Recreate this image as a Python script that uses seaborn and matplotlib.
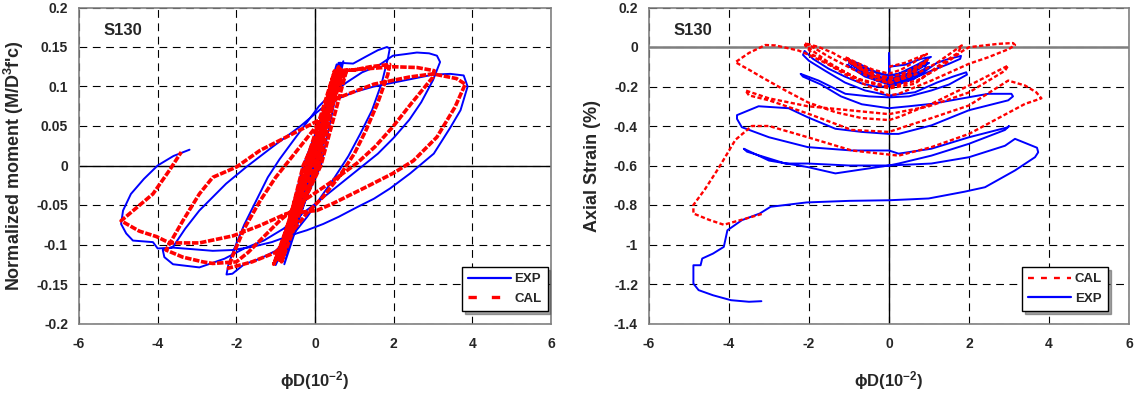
import numpy as np
import pandas as pd
import seaborn as sns
import matplotlib
matplotlib.use("Agg")
import matplotlib.pyplot as plt
from matplotlib.lines import Line2D
from matplotlib.ticker import FuncFormatter, MultipleLocator

# moment - curvature, test (EXP) path
exp_moment = [
    (0.0, 0.0), (0.6, 0.13), (0.1, 0.0), (-0.85, -0.122), (-0.2, 0.0), (0.55, 0.128),
    (-0.05, 0.0), (-1.0, -0.126), (0.15, 0.0), (0.72, 0.132), (-0.3, 0.0), (-0.92, -0.12),
    (0.0, 0.0), (0.65, 0.13), (0.05, 0.0), (-0.78, -0.125), (-0.1, 0.0), (0.62, 0.13),
    (0.97, 0.129), (1.3, 0.138), (1.6, 0.146), (1.83, 0.15), (1.9, 0.148), (1.86, 0.137), (1.7, 0.105),
    (1.45, 0.07), (1.15, 0.04), (0.85, 0.012), (0.5, -0.015), (0.15, -0.04), (-0.2, -0.065), (-0.6, -0.09),
    (-1.0, -0.108), (-1.4, -0.118), (-1.8, -0.125), (-2.1, -0.137), (-2.25, -0.138), (-2.2, -0.125),
    (-2.05, -0.105), (-1.8, -0.075), (-1.5, -0.045), (-1.2, -0.015), (-0.9, 0.008), (-0.5, 0.035),
    (-0.2, 0.055), (0.1, 0.075), (0.4, 0.09), (0.8, 0.105), (1.2, 0.118), (1.6, 0.126), (1.98, 0.139),
    (2.3, 0.141), (2.59, 0.143), (2.9, 0.142), (3.1, 0.139), (3.18, 0.131), (3.0, 0.108), (2.7, 0.08),
    (2.4, 0.058), (2.0, 0.035), (1.6, 0.015), (1.1, -0.005), (0.6, -0.025), (0.1, -0.045), (-0.3, -0.06),
    (-0.8, -0.08), (-1.3, -0.095), (-1.8, -0.105), (-2.3, -0.118), (-2.94, -0.129), (-3.61, -0.125),
    (-3.83, -0.116), (-3.87, -0.107), (-3.61, -0.103), (-3.3, -0.08), (-2.94, -0.057), (-2.6, -0.04),
    (-2.26, -0.023), (-1.75, -0.002), (-1.07, 0.024), (-0.39, 0.049), (0.16, 0.072), (0.6, 0.085),
    (1.0, 0.093), (1.5, 0.1), (2.0, 0.105), (2.5, 0.11), (3.0, 0.115), (3.44, 0.116), (3.78, 0.114),
    (3.88, 0.1), (3.7, 0.07), (3.44, 0.048), (3.02, 0.015), (2.42, -0.01), (1.91, -0.029), (1.5, -0.042),
    (1.06, -0.053), (0.6, -0.065), (0.21, -0.074), (-0.21, -0.082), (-0.6, -0.088), (-1.1, -0.097),
    (-1.6, -0.103), (-2.1, -0.107), (-2.6, -0.108), (-3.1, -0.106), (-3.6, -0.104), (-4.0, -0.105),
    (-4.12, -0.097), (-4.63, -0.095), (-4.8, -0.086), (-4.93, -0.074), (-4.88, -0.057), (-4.68, -0.036),
    (-4.35, -0.017), (-4.0, 0.0), (-3.6, 0.012), (-3.19, 0.02),
]

# moment - curvature, analysis (CAL) path
cal_moment = [
    (-0.05, 0.0), (0.65, 0.122), (0.1, 0.0), (-0.95, -0.118), (-0.25, 0.0), (0.5, 0.12),
    (-0.15, 0.0), (-1.05, -0.125), (0.15, 0.0), (0.8, 0.12), (-0.3, 0.0), (-0.9, -0.12),
    (-0.1, 0.0), (0.6, 0.125), (0.05, 0.0), (-0.85, -0.122), (-0.2, 0.0), (0.7, 0.12),
    (0.0, 0.0), (-1.0, -0.12), (-0.1, 0.0), (0.62, 0.12),
    (1.0, 0.121), (1.4, 0.125), (1.9, 0.128), (1.85, 0.115), (1.6, 0.08), (1.3, 0.045), (1.0, 0.015),
    (0.6, -0.015), (0.2, -0.04), (-0.2, -0.06), (-0.6, -0.085), (-1.0, -0.11), (-1.6, -0.122),
    (-2.2, -0.13), (-2.1, -0.115), (-1.8, -0.08), (-1.4, -0.045), (-1.0, -0.015), (-0.6, 0.01),
    (-0.2, 0.035), (0.2, 0.06), (0.5, 0.09), (0.7, 0.12), (1.2, 0.122), (2.0, 0.125), (2.6, 0.124),
    (3.03, 0.12), (3.0, 0.112), (2.44, 0.078), (1.98, 0.049), (1.53, 0.024), (1.07, 0.003),
    (0.35, -0.023), (-0.3, -0.045), (-0.9, -0.07), (-1.3, -0.09), (-1.7, -0.11), (-2.0, -0.122),
    (-2.6, -0.124), (-2.85, -0.122), (-3.36, -0.116), (-3.79, -0.107), (-3.36, -0.07), (-2.94, -0.036),
    (-2.6, -0.015), (-2.0, -0.002), (-1.4, 0.019), (-0.73, 0.036), (-0.22, 0.049), (0.12, 0.058),
    (0.55, 0.085), (1.5, 0.103), (2.4, 0.112), (3.0, 0.116), (3.6, 0.11), (3.82, 0.103),
    (3.56, 0.074), (3.1, 0.036), (2.5, 0.006), (1.98, -0.01), (1.31, -0.027), (0.46, -0.048),
    (0.045, -0.057), (-0.73, -0.061), (-1.4, -0.076), (-2.08, -0.089), (-2.94, -0.098), (-3.7, -0.098),
    (-4.03, -0.09), (-4.47, -0.083), (-4.93, -0.07), (-4.12, -0.036), (-3.7, -0.006), (-3.4, 0.017),
]

# axial strain - curvature, test (EXP)
exp_strain = [
    (0.0, -0.1), (0.4, -0.09), (0.8, -0.06), (1.05, -0.05), (0.7, -0.09), (0.3, -0.13), (0.0, -0.15),
    (0.0, -0.03), (0.02, -0.15), (-0.4, -0.12), (-0.8, -0.08), (-1.08, -0.06), (-0.7, -0.11),
    (-0.3, -0.15), (0.0, -0.16), (0.4, -0.14), (0.8, -0.1), (1.0, -0.08), (0.6, -0.13), (0.2, -0.16),
    (-0.3, -0.155), (-0.7, -0.12), (-1.0, -0.08), (-0.6, -0.13), (-0.2, -0.165), (0.1, -0.17),
    (0.5, -0.15), (0.9, -0.11), (0.95, -0.07), (0.6, -0.11), (0.2, -0.14), (-0.2, -0.14),
    (-0.6, -0.11), (-0.95, -0.07), (-0.9, -0.09), (-0.5, -0.14), (0.0, -0.18), (0.5, -0.16),
    (0.85, -0.12), (1.0, -0.1), (0.7, -0.14), (0.2, -0.175), (-0.3, -0.17), (-0.8, -0.12),
    (-1.05, -0.09), (-0.6, -0.15), (0.0, -0.19), (0.6, -0.165), (1.2, -0.08),
    (1.5, -0.06), (1.8, -0.045), (1.78, -0.06), (1.5, -0.085), (1.06, -0.12), (0.6, -0.16),
    (0.24, -0.19), (0.0, -0.2), (-0.35, -0.2), (-0.68, -0.185), (-1.1, -0.15), (-1.51, -0.11),
    (-1.9, -0.06), (-2.11, -0.02), (-2.15, -0.04), (-2.0, -0.07), (-1.6, -0.12), (-1.1, -0.18),
    (-0.6, -0.22), (0.0, -0.246), (0.65, -0.229), (1.2, -0.18), (1.6, -0.15), (1.93, -0.128),
    (1.95, -0.14), (1.5, -0.19), (1.06, -0.22), (0.5, -0.25), (0.0, -0.255), (-0.5, -0.25),
    (-1.09, -0.237), (-1.76, -0.17), (-2.21, -0.136), (-2.15, -0.15), (-1.7, -0.19), (-1.2, -0.25),
    (-0.68, -0.29), (0.0, -0.31), (0.5, -0.3), (1.06, -0.288), (2.0, -0.254), (2.48, -0.237),
    (3.06, -0.237), (3.1, -0.25), (2.98, -0.27), (2.0, -0.32), (1.06, -0.397), (0.24, -0.44),
    (0.0, -0.44), (-0.68, -0.43), (-1.34, -0.414), (-2.03, -0.356), (-2.51, -0.31), (-3.26, -0.3),
    (-3.8, -0.345), (-3.8, -0.364), (-3.68, -0.406), (-3.0, -0.457), (-2.03, -0.507), (-0.93, -0.524),
    (0.0, -0.524), (0.24, -0.54), (1.06, -0.515), (2.0, -0.457), (2.98, -0.406), (3.0, -0.4),
    (2.9, -0.42), (2.0, -0.49), (1.06, -0.55), (0.24, -0.59), (0.0, -0.6), (-0.68, -0.62),
    (-1.34, -0.64), (-2.03, -0.608), (-3.0, -0.575), (-3.63, -0.515), (-3.55, -0.53), (-2.59, -0.59),
    (-2.03, -0.59), (-1.0, -0.6), (0.0, -0.6), (1.06, -0.59), (2.0, -0.558), (2.9, -0.5),
    (3.15, -0.465), (3.7, -0.51), (3.73, -0.533),
    (3.65, -0.558), (3.15, -0.625), (2.4, -0.71), (1.88, -0.733), (0.99, -0.767), (0.0, -0.776),
    (-0.99, -0.779), (-2.06, -0.787), (-2.96, -0.809), (-3.23, -0.843), (-3.68, -0.877),
    (-4.04, -0.928), (-4.13, -1.012), (-4.4, -1.046), (-4.67, -1.071), (-4.71, -1.105),
    (-4.89, -1.105), (-4.89, -1.198), (-4.76, -1.231), (-4.4, -1.257), (-3.95, -1.282),
    (-3.5, -1.29), (-3.19, -1.287),
]

# axial strain - curvature, analysis (CAL)
cal_strain = [
    (0.0, -0.1), (0.4, -0.08), (0.7, -0.055), (0.95, -0.035), (0.6, -0.08), (0.3, -0.115),
    (0.0, -0.135), (-0.4, -0.115), (-0.8, -0.08), (-1.09, -0.052), (-0.7, -0.1), (-0.3, -0.14),
    (0.0, -0.155), (0.4, -0.13), (0.8, -0.085), (1.0, -0.06), (0.6, -0.12), (0.2, -0.16),
    (-0.3, -0.15), (-0.7, -0.11), (-1.0, -0.07), (-0.6, -0.13), (0.0, -0.17), (0.5, -0.14),
    (0.9, -0.08), (0.5, -0.15), (0.0, -0.185), (-0.35, -0.153), (-0.93, -0.084), (-1.4, -0.03),
    (-1.76, 0.0), (-2.11, 0.019),
    (-1.95, 0.005), (-1.5, -0.05), (-0.93, -0.11), (-0.35, -0.165), (0.0, -0.18), (0.65, -0.14),
    (1.2, -0.08), (1.82, 0.008), (1.72, -0.03), (1.2, -0.1), (0.65, -0.186), (0.0, -0.21),
    (-0.68, -0.17), (-1.3, -0.11), (-1.9, -0.04), (-2.1, 0.01),
    (-1.5, -0.08), (-0.8, -0.16), (0.0, -0.2), (0.7, -0.17), (1.3, -0.1), (1.84, -0.02),
    (2.0, -0.001), (2.73, 0.016), (3.1, 0.02), (3.15, 0.01), (3.0, -0.01), (2.48, -0.052),
    (2.0, -0.085), (1.06, -0.17), (0.24, -0.237), (0.0, -0.245), (-0.5, -0.2), (-1.0, -0.15),
    (-1.5, -0.09), (-2.0, -0.04), (-2.26, -0.018), (-2.84, 0.008), (-3.09, 0.01), (-3.5, -0.03),
    (-3.84, -0.077), (-3.5, -0.115), (-3.18, -0.153), (-2.59, -0.22), (-2.03, -0.28),
    (-1.34, -0.33), (-0.68, -0.36), (0.0, -0.37), (0.24, -0.355), (1.07, -0.287), (2.0, -0.195),
    (2.98, -0.094), (2.9, -0.12), (2.0, -0.23), (1.0, -0.3), (0.0, -0.34), (-1.0, -0.32),
    (-2.03, -0.3), (-3.0, -0.26), (-3.59, -0.22), (-3.5, -0.245), (-3.0, -0.27), (-2.03, -0.337),
    (-0.93, -0.42), (0.0, -0.43), (0.49, -0.397), (1.06, -0.36), (2.0, -0.296), (2.98, -0.17),
    (3.4, -0.195), (3.68, -0.229), (3.81, -0.26), (3.4, -0.288), (2.0, -0.44), (1.06, -0.507),
    (0.24, -0.55), (-0.93, -0.524), (-2.03, -0.457), (-3.0, -0.4), (-3.43, -0.4), (-3.84, -0.47),
    (-4.25, -0.61), (-4.6, -0.72), (-4.89, -0.8), (-4.89, -0.843), (-4.5, -0.875), (-4.13, -0.9),
    (-3.6, -0.87), (-3.14, -0.843),
]

x_ticks = [-6, -4, -2, 0, 2, 4, 6]


def path_df(pts):
    a = np.array(pts)
    return pd.DataFrame({"phiD": a[:, 0], "val": a[:, 1]})


sns.set_theme(style="white")
plt.rcParams["font.family"] = ["Liberation Sans", "DejaVu Sans"]
plt.rcParams["font.weight"] = "bold"
plt.rcParams["axes.unicode_minus"] = False
plt.rcParams["mathtext.fontset"] = "custom"
plt.rcParams["mathtext.rm"] = "Liberation Sans:bold"
plt.rcParams["mathtext.it"] = "Liberation Sans:bold"
plt.rcParams["mathtext.bf"] = "Liberation Sans:bold"
plt.rcParams["mathtext.default"] = "rm"

fig = plt.figure(figsize=(11.34, 3.98), dpi=100)
ax1 = fig.add_axes([79 / 1134, 1 - 323.5 / 398, 472 / 1134, 316 / 398])
ax2 = fig.add_axes([649 / 1134, 1 - 323.5 / 398, 480 / 1134, 316 / 398])

fmt = FuncFormatter(lambda v, p: f"{round(v, 3) + 0.0:g}")

for ax in (ax1, ax2):
    ax.set_xlim(-6, 6)
    ax.set_xticks(x_ticks)
    ax.xaxis.set_major_formatter(fmt)
    ax.yaxis.set_major_formatter(fmt)
    ax.grid(True, color="black", linestyle=(0, (7, 5)), linewidth=0.8)
    ax.tick_params(axis="y", length=0, pad=8, labelsize=10)
    ax.tick_params(axis="x", length=0, pad=10, labelsize=10)
    for s in ax.spines.values():
        s.set_color("#808080")
        s.set_linewidth(1.2)
    ax.text(0.092, 0.928, "S130", transform=ax.transAxes, fontsize=12,
            fontweight="bold", ha="center", va="center")

ax1.set_ylim(-0.2, 0.2)
ax1.yaxis.set_major_locator(MultipleLocator(0.05))
ax1.axhline(0, color="black", lw=1, zorder=1.5)
ax1.axvline(0, color="black", lw=1, zorder=1.5)

ax2.set_ylim(-1.4, 0.2)
ax2.yaxis.set_major_locator(MultipleLocator(0.2))
ax2.axhline(0, color="#7f7f7f", lw=1.8, zorder=1.5)
ax2.axvline(0, color="black", lw=1, zorder=1.5)

# left panel
sns.lineplot(data=path_df(exp_moment), x="phiD", y="val", sort=False, estimator=None,
             color="#0000ff", lw=1.4, ax=ax1)
sns.lineplot(data=path_df(cal_moment), x="phiD", y="val", sort=False, estimator=None,
             color="#ff0000", lw=2.6, linestyle=(0, (1.8, 0.45)), ax=ax1)
ax1.set_ylabel("Normalized moment (M/D$^3$f'c)", fontsize=13, fontweight="bold", va="center")
ax1.yaxis.set_label_coords(-0.138, 0.5)

# right panel
sns.lineplot(data=path_df(exp_strain), x="phiD", y="val", sort=False, estimator=None,
             color="#0000ff", lw=1.4, ax=ax2)
sns.lineplot(data=path_df(cal_strain), x="phiD", y="val", sort=False, estimator=None,
             color="#ff0000", lw=1.7, linestyle=(0, (1.8, 1.0)), ax=ax2)
ax2.set_ylabel("Axial Strain (%)", fontsize=13, fontweight="bold", va="center")
ax2.yaxis.set_label_coords(-0.117, 0.5)

for ax in (ax1, ax2):
    ax.set_xlabel("\u03d5D(10$^{-2}$)", fontsize=12, fontweight="bold", va="center")
    ax.xaxis.set_label_coords(0.5, -0.18)

h_exp = Line2D([], [], color="#0000ff", lw=1.6)
h_cal1 = Line2D([], [], color="#ff0000", lw=2.4, linestyle=(0, (2.5, 4.5)))
h_cal2 = Line2D([], [], color="#ff0000", lw=1.7, linestyle=(0, (2.5, 3)))

leg_kw = dict(loc="lower right", frameon=True, fancybox=False, shadow=True,
              edgecolor="black", framealpha=1, fontsize=9.5, handlelength=3.3,
              handletextpad=0.25, borderpad=0.45, labelspacing=0.55, borderaxespad=0)
l1 = ax1.legend([h_exp, h_cal1], ["EXP", "CAL"], bbox_to_anchor=(0.993, 0.04), **leg_kw)
l2 = ax2.legend([h_cal2, h_exp], ["CAL", "EXP"], bbox_to_anchor=(0.956, 0.04), **leg_kw)
for lg in (l1, l2):
    lg.get_frame().set_linewidth(1.0)

fig.savefig("out.png", dpi=100)
